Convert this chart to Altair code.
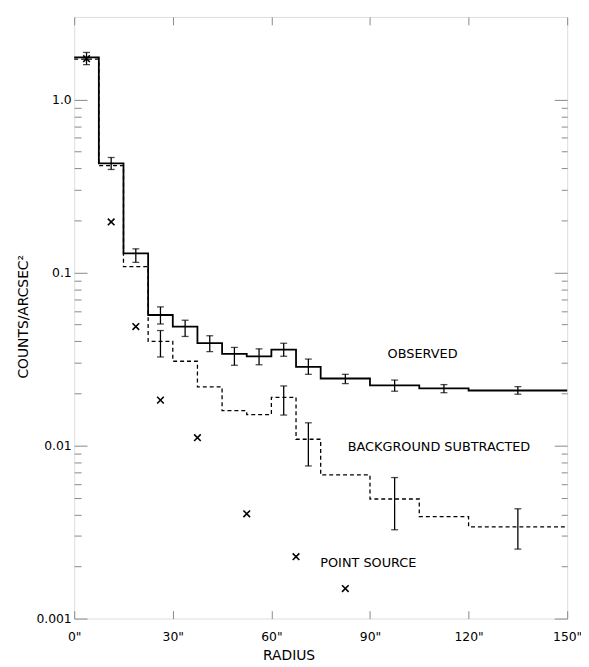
import altair as alt
import pandas as pd

# ---- data ----
bin_edges = [0, 7.5, 15, 22.5, 30, 37.5, 45, 52.5, 60, 67.5, 75, 90, 105, 120, 150]
bin_centers = [3.75, 11.25, 18.75, 26.25, 33.75, 41.25, 48.75, 56.25, 63.75, 71.25, 82.5, 97.5, 112.5, 135]

observed = [1.75, 0.427, 0.129, 0.0568, 0.0487, 0.0391, 0.0339, 0.0328, 0.0358, 0.0285, 0.0244, 0.0223, 0.0214, 0.0208]
observed_lo = [1.59, 0.394, 0.1145, 0.0504, 0.0427, 0.0349, 0.0291, 0.0293, 0.0328, 0.0258, 0.0228, 0.0206, 0.0202, 0.0198]
observed_hi = [1.87, 0.462, 0.137, 0.0633, 0.053, 0.0431, 0.0369, 0.0362, 0.039, 0.0316, 0.0258, 0.0239, 0.0225, 0.0219]

bg_subtracted = [1.71, 0.415, 0.108, 0.040, 0.0307, 0.0218, 0.0159, 0.0151, 0.019, 0.01087, 0.00676, 0.00491, 0.00388, 0.00339]
bg_err_r = [26.25, 63.75, 71.25, 97.5, 135]
bg_err_lo = [0.0325, 0.0150, 0.00762, 0.00326, 0.00252]
bg_err_hi = [0.0462, 0.0221, 0.01353, 0.00653, 0.00431]

point_r = [3.75, 11.25, 18.75, 26.25, 37.5, 52.5, 67.5, 82.5]
point_v = [1.72, 0.196, 0.0487, 0.0183, 0.0111, 0.00403, 0.00228, 0.00149]

label_r = [106, 111, 89.5]
label_v = [0.034, 0.00984, 0.00209]
label_t = ["OBSERVED", "BACKGROUND SUBTRACTED", "POINT SOURCE"]

x_ticks = [0, 30, 60, 90, 120, 150]
y_ticks = [0.001, 0.002, 0.003, 0.004, 0.005, 0.006, 0.007, 0.008, 0.009,
           0.01, 0.02, 0.03, 0.04, 0.05, 0.06, 0.07, 0.08, 0.09,
           0.1, 0.2, 0.3, 0.4, 0.5, 0.6, 0.7, 0.8, 0.9, 1.0]

# ---- tables ----
step_obs = pd.DataFrame({"r": bin_edges, "v": observed + [observed[-1]]})
step_bg = pd.DataFrame({"r": bin_edges, "v": bg_subtracted + [bg_subtracted[-1]]})
err_obs = pd.DataFrame({"r": bin_centers, "lo": observed_lo, "hi": observed_hi})
err_bg = pd.DataFrame({"r": bg_err_r, "lo": bg_err_lo, "hi": bg_err_hi})
pts = pd.DataFrame({"r": point_r, "v": point_v})
labels = pd.DataFrame({"r": label_r, "v": label_v, "t": label_t})

FONT = "DejaVu Sans"
xs = alt.Scale(domain=[0, 150], nice=False, zero=False)
ys = alt.Scale(type="log", domain=[0.001, 3.0], nice=False)

major = "(datum.value == 1 || datum.value == 0.1 || datum.value == 0.01 || datum.value == 0.001)"
ylab = ("datum.value == 1 ? '1.0' : datum.value == 0.1 ? '0.1' : "
        "datum.value == 0.01 ? '0.01' : datum.value == 0.001 ? '0.001' : ''")

x_bottom = alt.Axis(orient="bottom", values=x_ticks, labelExpr="datum.value + '\"'",
                    tickSize={"expr": "-8"}, labelPadding=20, labelFlush=False,
                    labelOverlap=False, labelFontSize=12.5, labelFont=FONT,
                    title="RADIUS", titleFont=FONT, titleFontSize=14, titleFontWeight="normal",
                    titleX=217, titleY=30, titleBaseline="top", grid=False, domain=False)
y_left = alt.Axis(orient="left", values=y_ticks, labelExpr=ylab,
                  tickSize={"expr": major + " ? -13 : -7"}, labelPadding=16,
                  labelOverlap=False, labelFontSize=12.5, labelFont=FONT,
                  title="COUNTS/ARCSEC²", titleFont=FONT, titleFontSize=14,
                  titleFontWeight="normal", titleX=-44, titleY=303, grid=False, domain=False)
x_top = alt.Axis(orient="top", values=x_ticks, labels=False, tickSize={"expr": "-8"},
                 title=None, grid=False, domain=False)
y_right = alt.Axis(orient="right", values=y_ticks, labels=False,
                   tickSize={"expr": major + " ? -13 : -6"}, title=None, grid=False, domain=False)

obs_line = alt.Chart(step_obs).mark_line(interpolate="step-after", color="black", strokeWidth=1.8).encode(
    x=alt.X("r:Q", scale=xs, axis=x_bottom),
    y=alt.Y("v:Q", scale=ys, axis=y_left),
)
bg_line = alt.Chart(step_bg).mark_line(interpolate="step-after", color="black", strokeWidth=1.3,
                                        strokeDash=[4, 3]).encode(
    x=alt.X("r:Q", scale=xs, axis=x_top),
    y=alt.Y("v:Q", scale=ys, axis=y_right),
)

def errbars(df):
    rules = alt.Chart(df).mark_rule(color="black", strokeWidth=1.3).encode(
        x=alt.X("r:Q", scale=xs, axis=None),
        y=alt.Y("lo:Q", scale=ys, axis=None),
        y2="hi:Q",
    )
    cap_lo = alt.Chart(df).mark_tick(orient="horizontal", color="black", size=7, thickness=1.3).encode(
        x=alt.X("r:Q", scale=xs, axis=None),
        y=alt.Y("lo:Q", scale=ys, axis=None),
    )
    cap_hi = alt.Chart(df).mark_tick(orient="horizontal", color="black", size=7, thickness=1.3).encode(
        x=alt.X("r:Q", scale=xs, axis=None),
        y=alt.Y("hi:Q", scale=ys, axis=None),
    )
    return [rules, cap_lo, cap_hi]

point_marks = alt.Chart(pts).mark_point(shape="M-1,-1L1,1M-1,1L1,-1", filled=False, size=45,
                                        strokeWidth=1.6, color="black", opacity=1).encode(
    x=alt.X("r:Q", scale=xs, axis=None),
    y=alt.Y("v:Q", scale=ys, axis=None),
)
text_marks = alt.Chart(labels).mark_text(font=FONT, fontSize=13, color="black",
                                          align="center", baseline="middle").encode(
    x=alt.X("r:Q", scale=xs, axis=None),
    y=alt.Y("v:Q", scale=ys, axis=None),
    text="t:N",
)

chart = alt.layer(
    obs_line, bg_line, *errbars(err_obs), *errbars(err_bg), point_marks, text_marks
).resolve_axis(x="independent", y="independent").properties(
    width=499, height=609,
    autosize=alt.AutoSizeParams(type="none"),
    padding={"left": 67, "top": 5, "right": 14, "bottom": 45},
).configure_view(stroke="black", strokeWidth=1.3).configure_axis(
    tickColor="black", labelColor="black", titleColor="black", tickWidth=1.2
).configure(background="white")

chart.save("out.html", embed_options={"renderer": "svg", "actions": False})
